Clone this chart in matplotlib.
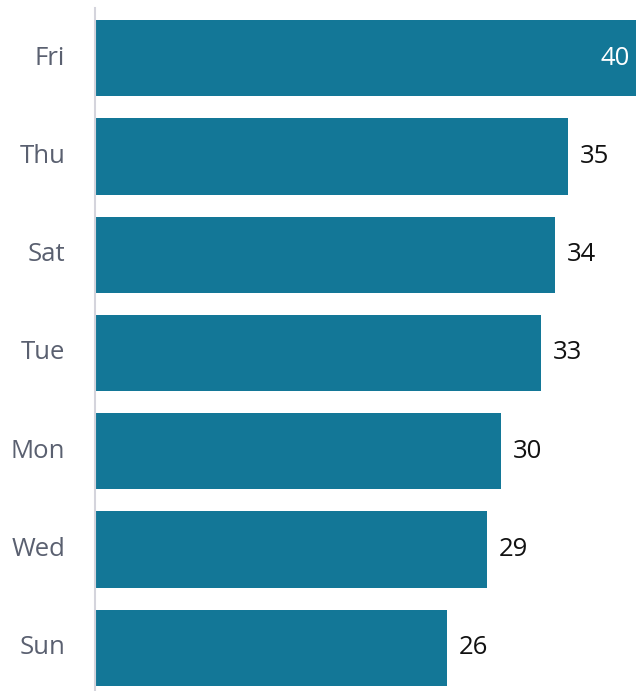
import matplotlib
matplotlib.use("Agg")
import matplotlib.pyplot as plt

days = ["Sun", "Wed", "Mon", "Tue", "Sat", "Thu", "Fri"]
values = [26, 29, 30, 33, 34, 35, 40]

plt.rcParams['font.family'] = ['Open Sans', 'DejaVu Sans']

fig = plt.figure(figsize=(6.36, 6.91), dpi=100)
ax = fig.add_axes([95/636, 0, 1 - 95/636, 683/691])

bar_color = "#137797"
ax.barh(range(len(days)), values, height=0.776, color=bar_color)
ax.set_xlim(0, 40)
ax.set_ylim(-0.44, 6.51)
ax.set_yticks(range(len(days)))
ax.set_yticklabels(days, fontsize=18.5, color="#5a6070", va="center")
ax.tick_params(axis='y', length=0, pad=21.5)
ax.set_xticks([])
for s in ["top", "right", "bottom"]:
    ax.spines[s].set_visible(False)
ax.spines["left"].set_color("#d4d4dc")
ax.spines["left"].set_linewidth(1.5)

vmax = max(values)
for i, v in enumerate(values):
    if v == vmax:
        ax.annotate(str(v), (v, i), xytext=(-4.5, 0), textcoords="offset points",
                    ha="right", va="center", fontsize=18.5, color="white")
    else:
        ax.annotate(str(v), (v, i), xytext=(8.5, 0), textcoords="offset points",
                    ha="left", va="center", fontsize=18.5, color="#111111")

fig.savefig("out.png", dpi=100)
